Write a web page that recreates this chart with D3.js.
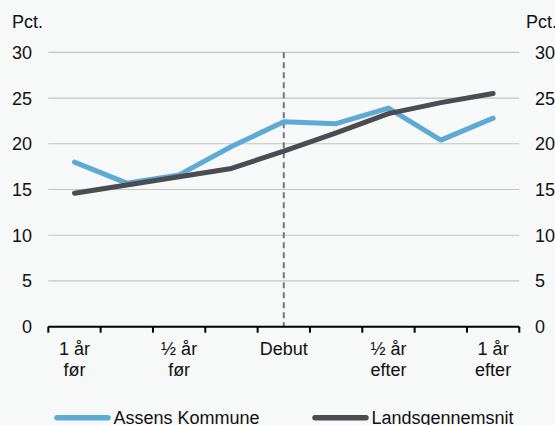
<!DOCTYPE html>
<html><head><meta charset="utf-8">
<script src="https://cdn.jsdelivr.net/npm/d3@7"></script>
<style>
html,body{margin:0;padding:0;background:#f7f8f8;}
svg{display:block;font-family:"Liberation Sans",Arial,sans-serif;}
</style></head>
<body>
<svg id="c" width="555" height="425"></svg>
<script>
const categories = ["1 år før","q2","½ år før","q4","Debut","q6","½ år efter","q8","1 år efter"];
const categoryLabels = [["1 år","før"],[],["½ år","før"],[],["Debut"],[],["½ år","efter"],[],["1 år","efter"]];
const assens = [18.0, 15.7, 16.6, 19.7, 22.4, 22.2, 23.9, 20.4, 22.8];
const lands = [14.6, 15.5, 16.4, 17.3, 19.2, 21.2, 23.3, 24.5, 25.5];
const yTicks = [0,5,10,15,20,25,30];
const seriesNames = ["Assens Kommune","Landsgennemsnit"];
const colors = ["#5eaad6","#4b4c51"];
const debutCategory = "Debut";

const svg = d3.select("#c");
const x = d3.scaleBand().domain(categories).range([48.3, 519.3]);
const y = d3.scaleLinear().domain([0,30]).range([326.7, 52.3]);
const FS = 18;

// grid
svg.append("g").selectAll("line").data(yTicks.filter(d=>d>0)).join("line")
  .attr("x1",48.3).attr("x2",519.3)
  .attr("y1",d=>y(d)).attr("y2",d=>y(d))
  .attr("stroke","#c3c4c4").attr("stroke-width",1.2);

// tick labels
svg.append("g").selectAll("text").data(yTicks).join("text")
  .attr("x",32).attr("y",d=>y(d)).attr("dy","0.36em")
  .attr("text-anchor","end").attr("font-size",FS).attr("fill","#111")
  .text(d=>d);
svg.append("g").selectAll("text").data(yTicks).join("text")
  .attr("x",535).attr("y",d=>y(d)).attr("dy","0.36em")
  .attr("text-anchor","start").attr("font-size",FS).attr("fill","#111")
  .text(d=>d);
svg.append("text").attr("x",12).attr("y",28).attr("font-size",FS).attr("fill","#111").text("Pct.");
svg.append("text").attr("x",526).attr("y",28).attr("font-size",FS).attr("fill","#111").text("Pct.");

// dashed debut line
svg.append("line")
  .attr("x1",x(debutCategory)+x.bandwidth()/2).attr("x2",x(debutCategory)+x.bandwidth()/2)
  .attr("y1",y(30)).attr("y2",y(0))
  .attr("stroke","#777").attr("stroke-width",2).attr("stroke-dasharray","6,4");

// x axis
const edges = categories.map(c=>x(c)).concat([x.range()[1]]);
svg.append("line").attr("x1",48.3).attr("x2",519.3).attr("y1",y(0)).attr("y2",y(0))
  .attr("stroke","#000").attr("stroke-width",2);
svg.append("g").selectAll("line").data(edges).join("line")
  .attr("x1",d=>d).attr("x2",d=>d).attr("y1",y(0)).attr("y2",y(0)+6)
  .attr("stroke","#000").attr("stroke-width",2);
const xl = svg.append("g").selectAll("text").data(categories).join("text")
  .attr("x",d=>x(d)+x.bandwidth()/2).attr("y",355)
  .attr("text-anchor","middle").attr("font-size",FS).attr("fill","#111");
xl.each(function(d,i){
  const t = d3.select(this);
  categoryLabels[i].forEach((s,j)=>{
    t.append("tspan").attr("x",x(d)+x.bandwidth()/2).attr("dy",j===0?0:21).text(s);
  });
});

// lines
const line = d3.line().x((d,i)=>x(categories[i])+x.bandwidth()/2).y(d=>y(d));
[assens,lands].forEach((s,i)=>{
  svg.append("path").datum(s).attr("d",line).attr("fill","none")
    .attr("stroke",colors[i]).attr("stroke-width",5)
    .attr("stroke-linejoin","round").attr("stroke-linecap","round");
});

// legend
const legX = [55,313];
seriesNames.forEach((n,i)=>{
  svg.append("line").attr("x1",legX[i]+2).attr("x2",legX[i]+53).attr("y1",417.7).attr("y2",417.7)
    .attr("stroke",colors[i]).attr("stroke-width",5.5).attr("stroke-linecap","round");
  svg.append("text").attr("x",legX[i]+58.5).attr("y",423.5).attr("font-size",FS).attr("fill","#111").text(n);
});
</script>
</body></html>
